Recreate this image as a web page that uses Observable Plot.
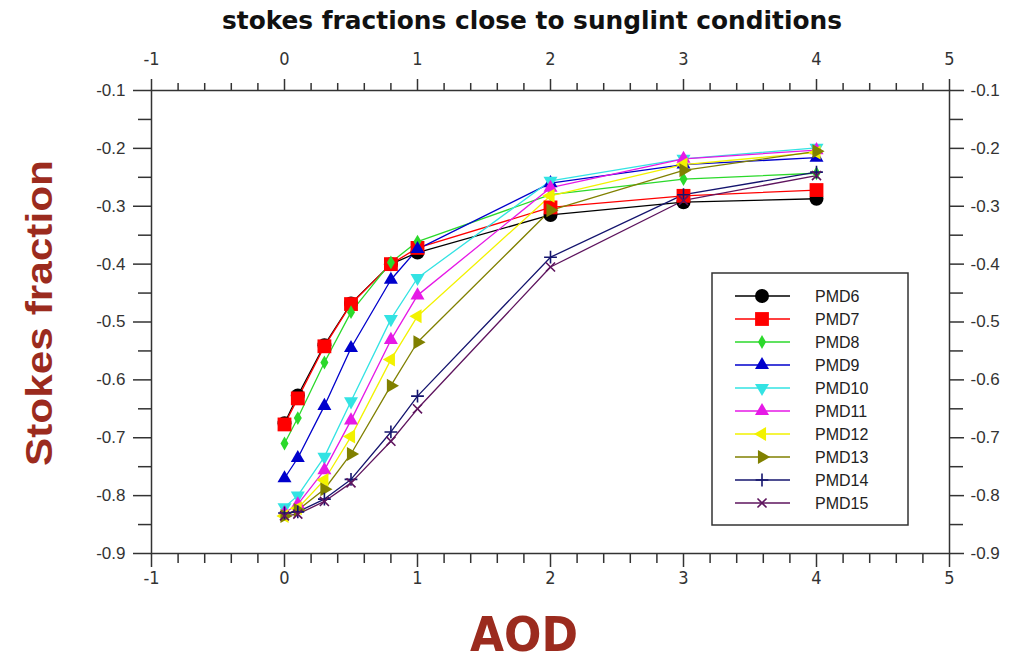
<!DOCTYPE html>
<html>
<head>
<meta charset="utf-8">
<script src="https://cdn.jsdelivr.net/npm/d3@7"></script>
<script src="https://cdn.jsdelivr.net/npm/@observablehq/plot@0.6"></script>
<style>
  html, body { margin: 0; padding: 0; background: #fff; }
  #wrap { position: relative; width: 1017px; height: 662px; overflow: hidden; }
  #wrap > svg { position: absolute; left: 0; top: 0; }
</style>
</head>
<body>
<div id="wrap"></div>
<script>
// ---------------- data ----------------
const aod = [0, 0.1, 0.3, 0.5, 0.8, 1, 2, 3, 4];
const seriesNames = ["PMD6","PMD7","PMD8","PMD9","PMD10","PMD11","PMD12","PMD13","PMD14","PMD15"];
const PMD6  = [-0.675, -0.627, -0.540, -0.468, -0.400, -0.380, -0.315, -0.293, -0.287];
const PMD7  = [-0.677, -0.632, -0.542, -0.469, -0.400, -0.372, -0.302, -0.282, -0.272];
const PMD8  = [-0.710, -0.666, -0.570, -0.483, -0.397, -0.361, -0.280, -0.253, -0.243];
const PMD9  = [-0.770, -0.735, -0.645, -0.545, -0.427, -0.374, -0.260, -0.228, -0.216];
const PMD10 = [-0.820, -0.800, -0.733, -0.637, -0.495, -0.424, -0.256, -0.218, -0.199];
const PMD11 = [-0.830, -0.815, -0.756, -0.670, -0.531, -0.454, -0.268, -0.218, -0.203];
const PMD12 = [-0.835, -0.822, -0.773, -0.698, -0.565, -0.490, -0.282, -0.228, -0.207];
const PMD13 = [-0.835, -0.825, -0.789, -0.728, -0.610, -0.535, -0.307, -0.238, -0.205];
const PMD14 = [-0.830, -0.828, -0.806, -0.772, -0.690, -0.628, -0.388, -0.280, -0.241];
const PMD15 = [-0.835, -0.832, -0.810, -0.778, -0.706, -0.650, -0.405, -0.290, -0.247];
const seriesValues = [PMD6, PMD7, PMD8, PMD9, PMD10, PMD11, PMD12, PMD13, PMD14, PMD15];

const xMajorTicks = [-1, 0, 1, 2, 3, 4, 5];
const xMinorTicks = d3.range(-50, 251, 10).map(v => v / 50).filter(v => !Number.isInteger(v));
const yMajorTicks = [-0.9, -0.8, -0.7, -0.6, -0.5, -0.4, -0.3, -0.2, -0.1];
const yMinorTicks = [-0.85, -0.75, -0.65, -0.55, -0.45, -0.35, -0.25, -0.15];

const titleText = "stokes fractions close to sunglint conditions";
const xLabel = "AOD";
const yLabel = "Stokes fraction";

// ---------------- styles ----------------
const colors = ["#000000","#ff0000","#2bd92b","#0000cc","#33e3e3","#e619e6","#f2f200","#808000","#14146e","#5e145e"];
function rotTri(deg) {
  return { draw(ctx, size) {
    const s3 = Math.sqrt(3), y = -Math.sqrt(size / (s3 * 3));
    const a = deg * Math.PI / 180, c = Math.cos(a), s = Math.sin(a);
    const pts = [[0, y * 2], [-s3 * y, -y], [s3 * y, -y]].map(([px, py]) => [px * c - py * s, px * s + py * c]);
    ctx.moveTo(pts[0][0], pts[0][1]); ctx.lineTo(pts[1][0], pts[1][1]); ctx.lineTo(pts[2][0], pts[2][1]); ctx.closePath();
  }};
}
const symbols = [d3.symbolCircle, d3.symbolSquare, d3.symbolDiamond, rotTri(0), rotTri(180), rotTri(0), rotTri(-90), rotTri(90), d3.symbolPlus, d3.symbolTimes];
const radii   = [7, 7.8, 4.2, 5.2, 5.2, 5.2, 5.2, 5.2, 4.2, 4.2];
const stroked = [false, false, false, false, false, false, false, false, true, true];

const data = [];
seriesNames.forEach((name, i) => aod.forEach((x, j) => data.push({series: name, idx: i, x, y: seriesValues[i][j]})));

const narrow = "'Liberation Sans Narrow', 'DejaVu Sans Condensed', sans-serif";
const sans = "'Liberation Sans', Arial, sans-serif";
const axisColor = "#333";

const marks = [];
seriesNames.forEach((name, i) => {
  const d = data.filter(r => r.idx === i);
  marks.push(Plot.line(d, {x: "x", y: "y", stroke: colors[i], strokeWidth: 1.3}));
});
seriesNames.forEach((name, i) => {
  const d = data.filter(r => r.idx === i);
  marks.push(Plot.dot(d, stroked[i]
    ? {x: "x", y: "y", symbol: symbols[i], r: radii[i], stroke: colors[i], strokeWidth: 1.6, fill: "none"}
    : {x: "x", y: "y", symbol: symbols[i], r: radii[i], fill: colors[i], stroke: "none"}));
});

const fmtX = d => String(d);
const fmtY = d => d.toFixed(1);
const blank = () => "";

const chart = Plot.plot({
  width: 1017, height: 662,
  marginLeft: 151, marginRight: 68, marginTop: 90, marginBottom: 109,
  x: {domain: [-1, 5]},
  y: {domain: [-0.9, -0.1]},
  style: {background: "transparent"},
  marks: [
    Plot.axisX(xMinorTicks, {anchor: "bottom", tickSize: 10, tickFormat: blank, color: axisColor, strokeWidth: 1.5, label: null}),
    Plot.axisX(xMinorTicks, {anchor: "top", tickSize: 8, tickFormat: blank, color: axisColor, strokeWidth: 1.5, label: null}),
    Plot.axisX(xMajorTicks, {anchor: "bottom", tickSize: 14, tickPadding: 4, tickFormat: fmtX, color: axisColor, strokeWidth: 1.5, fontSize: 18, fontFamily: narrow, label: null}),
    Plot.axisX(xMajorTicks, {anchor: "top", tickSize: 12, tickPadding: 14, tickFormat: fmtX, color: axisColor, strokeWidth: 1.5, fontSize: 18, fontFamily: narrow, label: null}),
    Plot.axisY(yMinorTicks, {anchor: "left", tickSize: 13, tickFormat: blank, color: axisColor, strokeWidth: 1.5, label: null}),
    Plot.axisY(yMinorTicks, {anchor: "right", tickSize: 13, tickFormat: blank, color: axisColor, strokeWidth: 1.5, label: null}),
    Plot.axisY(yMajorTicks, {anchor: "left", tickSize: 18, tickPadding: 8, tickFormat: fmtY, color: axisColor, strokeWidth: 1.5, fontSize: 17, fontFamily: sans, label: null}),
    Plot.axisY(yMajorTicks, {anchor: "right", tickSize: 14, tickPadding: 7, tickFormat: fmtY, color: axisColor, strokeWidth: 1.5, fontSize: 17, fontFamily: sans, label: null}),
    Plot.frame({stroke: axisColor, strokeWidth: 1.5}),
    ...marks
  ]
});
document.getElementById("wrap").appendChild(chart);

// ---------------- overlay: title, axis labels, legend ----------------
const ov = d3.select("#wrap").append("svg").attr("width", 1017).attr("height", 662).style("pointer-events", "none");
ov.append("text").attr("x", 532).attr("y", 29).attr("text-anchor", "middle")
  .attr("textLength", 620).attr("lengthAdjust", "spacingAndGlyphs")
  .style("font-family", narrow).style("font-weight", "bold").style("font-size", "24px").attr("fill", "#111").text(titleText);
ov.append("text").attr("x", 524).attr("y", 651).attr("text-anchor", "middle")
  .attr("textLength", 108).attr("lengthAdjust", "spacingAndGlyphs")
  .style("font-family", narrow).style("font-weight", "bold").style("font-size", "48px").attr("fill", "#9b2b1e").text(xLabel);
ov.append("text").attr("transform", "translate(52,313) rotate(-90)").attr("text-anchor", "middle")
  .attr("textLength", 306).attr("lengthAdjust", "spacingAndGlyphs")
  .style("font-family", sans).style("font-weight", "bold").style("font-size", "37px").attr("fill", "#9b2b1e").text(yLabel);

const lg = ov.append("g").attr("transform", "translate(712,273)");
lg.append("rect").attr("width", 196).attr("height", 252).attr("fill", "#fff").attr("stroke", "#333").attr("stroke-width", 1.5);
seriesNames.forEach((name, i) => {
  const cy = 23 + i * 23;
  const g = lg.append("g").attr("transform", `translate(0,${cy})`);
  g.append("line").attr("x1", 23).attr("x2", 78).attr("y1", 0).attr("y2", 0).attr("stroke", colors[i]).attr("stroke-width", 1.3);
  const p = d3.symbol().type(symbols[i]).size(Math.PI * radii[i] * radii[i])();
  const path = g.append("path").attr("d", p).attr("transform", "translate(50,0)");
  if (stroked[i]) path.attr("fill", "none").attr("stroke", colors[i]).attr("stroke-width", 1.6);
  else path.attr("fill", colors[i]);
  g.append("text").attr("x", 103).attr("y", 0).attr("dy", "0.35em")
    .style("font-family", sans).style("font-size", "16px").attr("fill", "#222").text(name);
});
</script>
</body>
</html>
